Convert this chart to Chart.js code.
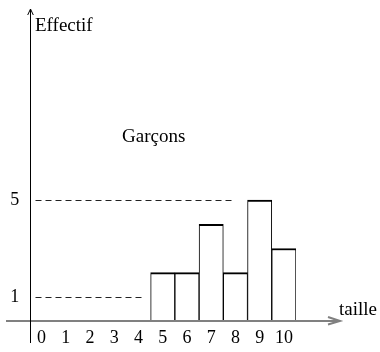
<!DOCTYPE html>
<html>
<head>
<meta charset="utf-8">
<style>
  html, body { margin: 0; padding: 0; background: #fff; overflow: hidden; }
</style>
</head>
<body>
<canvas id="chart" width="380" height="356"></canvas>
<script src="https://cdn.jsdelivr.net/npm/chart.js@4"></script>
<script>
// Data
const tailles = ['0', '1', '2', '3', '4', '5', '6', '7', '8', '9', '10'];
const effectifs = [0, 0, 0, 0, 0, 2, 2, 4, 2, 5, 3];
const yTicks = [1, 5];          // labelled levels on the vertical axis
const refEnds = [4.2, 8];       // where each dashed guide stops (category units)

const serif = 'Liberation Serif';

// Hand-drawn axes with arrows, dashed guides and the text labels
const axesPlugin = {
    id: 'axes',
    afterDraw(chart) {
        const ctx = chart.ctx;
        const xs = chart.scales.x;
        const ys = chart.scales.y;
        const x0 = Math.round(chart.chartArea.left) + 0.5;
        const y0 = ys.getPixelForValue(0);

        ctx.save();

        // dashed guides
        ctx.strokeStyle = '#222';
        ctx.lineWidth = 1;
        ctx.setLineDash([6, 4]);
        yTicks.forEach((v, i) => {
            const y = Math.round(ys.getPixelForValue(v)) + 0.5;
            ctx.beginPath();
            ctx.moveTo(x0 + 5, y);
            ctx.lineTo(xs.getPixelForValue(refEnds[i]), y);
            ctx.stroke();
        });
        ctx.setLineDash([]);

        // horizontal axis (grey) with open arrow
        ctx.strokeStyle = '#808080';
        ctx.lineWidth = 2;
        ctx.beginPath();
        ctx.moveTo(6, y0);
        ctx.lineTo(340, y0);
        ctx.moveTo(328, y0 - 4);
        ctx.lineTo(340, y0);
        ctx.lineTo(328, y0 + 3.5);
        ctx.stroke();

        // vertical axis with arrow
        ctx.strokeStyle = '#000';
        ctx.lineWidth = 1;
        ctx.beginPath();
        ctx.moveTo(x0, 343);
        ctx.lineTo(x0, 9);
        ctx.moveTo(x0 - 2.8, 15);
        ctx.lineTo(x0, 9);
        ctx.lineTo(x0 + 2.8, 15);
        ctx.stroke();

        // texts
        ctx.fillStyle = '#000';
        ctx.font = '19px "' + serif + '"';
        ctx.textBaseline = 'alphabetic';
        ctx.textAlign = 'left';
        ctx.fillText('Effectif', 35, 31);
        ctx.fillText('Garçons', 122, 142);
        ctx.fillText('taille', 339, 315);

        ctx.restore();
    }
};

const chart = new Chart(document.getElementById('chart'), {
    type: 'bar',
    data: {
        labels: tailles,
        datasets: [{
            data: effectifs,
            backgroundColor: '#fff',
            borderColor: '#000',
            borderWidth: { top: 2, left: 1, right: 1, bottom: 0 },
            barPercentage: 1,
            categoryPercentage: 1
        }]
    },
    options: {
        responsive: false,
        animation: false,
        layout: { padding: { top: 31, right: 84, bottom: 0, left: 0 } },
        plugins: { legend: { display: false }, tooltip: { enabled: false } },
        scales: {
            x: {
                grid: { display: false, drawTicks: false, tickLength: 0 },
                border: { display: false },
                ticks: {
                    color: '#000',
                    padding: 8.5,
                    maxRotation: 0,
                    autoSkip: false,
                    font: { family: serif, size: 18, lineHeight: 1 }
                }
            },
            y: {
                min: 0,
                max: 12,
                grid: { display: false, drawTicks: false, tickLength: 0 },
                border: { display: false },
                afterBuildTicks: (scale) => { scale.ticks = yTicks.map(v => ({ value: v })); },
                ticks: {
                    color: '#000',
                    padding: 10.25,
                    font: { family: serif, size: 18, lineHeight: 1 }
                }
            }
        }
    },
    plugins: [axesPlugin]
});
</script>
</body>
</html>
